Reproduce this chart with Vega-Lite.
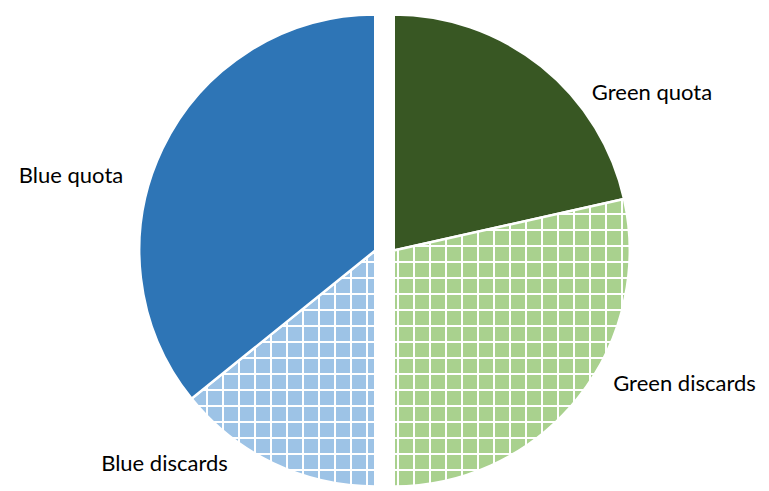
{
  "$schema": "https://vega.github.io/schema/vega-lite/v6.json",
  "width": 769,
  "height": 481,
  "autosize": {"type": "none"},
  "padding": {"top": 10, "bottom": 0, "left": 0, "right": 0},
  "background": "white",
  "config": {"view": {"stroke": null}},
  "data": {
    "values": [
      {"cat": "Green quota", "i": 1, "value": 21.5},
      {"cat": "Green discards", "i": 2, "value": 28.5},
      {"cat": "Blue discards", "i": 3, "value": 14.2},
      {"cat": "Blue quota", "i": 4, "value": 35.8}
    ]
  },
  "transform": [
    {"stack": "value", "groupby": [], "sort": [{"field": "i", "order": "ascending"}], "as": ["v0", "v1"]}
  ],
  "layer": [
    {
      "transform": [{"filter": "datum.cat == 'Green quota'"}],
      "mark": {"type": "arc", "radius": 236, "xOffset": 9.25, "fill": "#385723", "stroke": "#ffffff", "strokeWidth": 2.5},
      "encoding": {"theta": {"field": "v0", "type": "quantitative"}, "theta2": {"field": "v1"}}
    },
    {
      "transform": [{"filter": "datum.cat == 'Green discards'"}],
      "mark": {"type": "arc", "radius": 236, "xOffset": 9.25, "stroke": "#ffffff", "strokeWidth": 2.5,
        "fill": {"gradient": "linear", "x1": 0, "y1": 0, "x2": 1, "y2": 0, "stops": [
          {"offset": 0, "color": "#a9d18e"},
          {"offset": 0.01292, "color": "#a9d18e"}, {"offset": 0.01292, "color": "#ffffff"}, {"offset": 0.02309, "color": "#ffffff"}, {"offset": 0.02309, "color": "#a9d18e"},
          {"offset": 0.08072, "color": "#a9d18e"}, {"offset": 0.08072, "color": "#ffffff"}, {"offset": 0.09089, "color": "#ffffff"}, {"offset": 0.09089, "color": "#a9d18e"},
          {"offset": 0.14852, "color": "#a9d18e"}, {"offset": 0.14852, "color": "#ffffff"}, {"offset": 0.15869, "color": "#ffffff"}, {"offset": 0.15869, "color": "#a9d18e"},
          {"offset": 0.21631, "color": "#a9d18e"}, {"offset": 0.21631, "color": "#ffffff"}, {"offset": 0.22648, "color": "#ffffff"}, {"offset": 0.22648, "color": "#a9d18e"},
          {"offset": 0.28411, "color": "#a9d18e"}, {"offset": 0.28411, "color": "#ffffff"}, {"offset": 0.29428, "color": "#ffffff"}, {"offset": 0.29428, "color": "#a9d18e"},
          {"offset": 0.35191, "color": "#a9d18e"}, {"offset": 0.35191, "color": "#ffffff"}, {"offset": 0.36208, "color": "#ffffff"}, {"offset": 0.36208, "color": "#a9d18e"},
          {"offset": 0.4197, "color": "#a9d18e"}, {"offset": 0.4197, "color": "#ffffff"}, {"offset": 0.42987, "color": "#ffffff"}, {"offset": 0.42987, "color": "#a9d18e"},
          {"offset": 0.4875, "color": "#a9d18e"}, {"offset": 0.4875, "color": "#ffffff"}, {"offset": 0.49767, "color": "#ffffff"}, {"offset": 0.49767, "color": "#a9d18e"},
          {"offset": 0.5553, "color": "#a9d18e"}, {"offset": 0.5553, "color": "#ffffff"}, {"offset": 0.56547, "color": "#ffffff"}, {"offset": 0.56547, "color": "#a9d18e"},
          {"offset": 0.62309, "color": "#a9d18e"}, {"offset": 0.62309, "color": "#ffffff"}, {"offset": 0.63326, "color": "#ffffff"}, {"offset": 0.63326, "color": "#a9d18e"},
          {"offset": 0.69089, "color": "#a9d18e"}, {"offset": 0.69089, "color": "#ffffff"}, {"offset": 0.70106, "color": "#ffffff"}, {"offset": 0.70106, "color": "#a9d18e"},
          {"offset": 0.75869, "color": "#a9d18e"}, {"offset": 0.75869, "color": "#ffffff"}, {"offset": 0.76886, "color": "#ffffff"}, {"offset": 0.76886, "color": "#a9d18e"},
          {"offset": 0.82648, "color": "#a9d18e"}, {"offset": 0.82648, "color": "#ffffff"}, {"offset": 0.83665, "color": "#ffffff"}, {"offset": 0.83665, "color": "#a9d18e"},
          {"offset": 0.89428, "color": "#a9d18e"}, {"offset": 0.89428, "color": "#ffffff"}, {"offset": 0.90445, "color": "#ffffff"}, {"offset": 0.90445, "color": "#a9d18e"},
          {"offset": 0.96208, "color": "#a9d18e"}, {"offset": 0.96208, "color": "#ffffff"}, {"offset": 0.97225, "color": "#ffffff"}, {"offset": 0.97225, "color": "#a9d18e"},
          {"offset": 1, "color": "#a9d18e"}
        ]}
      },
      "encoding": {"theta": {"field": "v0", "type": "quantitative"}, "theta2": {"field": "v1"}}
    },
    {
      "transform": [{"filter": "datum.cat == 'Blue discards'"}],
      "mark": {"type": "arc", "radius": 236, "xOffset": -9.25, "stroke": "#ffffff", "strokeWidth": 2.5,
        "fill": {"gradient": "linear", "x1": 0, "y1": 0, "x2": 1, "y2": 0, "stops": [
          {"offset": 0, "color": "#9dc3e6"},
          {"offset": 0.07757, "color": "#9dc3e6"}, {"offset": 0.07757, "color": "#ffffff"}, {"offset": 0.09064, "color": "#ffffff"}, {"offset": 0.09064, "color": "#9dc3e6"},
          {"offset": 0.16467, "color": "#9dc3e6"}, {"offset": 0.16467, "color": "#ffffff"}, {"offset": 0.17774, "color": "#ffffff"}, {"offset": 0.17774, "color": "#9dc3e6"},
          {"offset": 0.25177, "color": "#9dc3e6"}, {"offset": 0.25177, "color": "#ffffff"}, {"offset": 0.26484, "color": "#ffffff"}, {"offset": 0.26484, "color": "#9dc3e6"},
          {"offset": 0.33887, "color": "#9dc3e6"}, {"offset": 0.33887, "color": "#ffffff"}, {"offset": 0.35194, "color": "#ffffff"}, {"offset": 0.35194, "color": "#9dc3e6"},
          {"offset": 0.42597, "color": "#9dc3e6"}, {"offset": 0.42597, "color": "#ffffff"}, {"offset": 0.43904, "color": "#ffffff"}, {"offset": 0.43904, "color": "#9dc3e6"},
          {"offset": 0.51307, "color": "#9dc3e6"}, {"offset": 0.51307, "color": "#ffffff"}, {"offset": 0.52614, "color": "#ffffff"}, {"offset": 0.52614, "color": "#9dc3e6"},
          {"offset": 0.60017, "color": "#9dc3e6"}, {"offset": 0.60017, "color": "#ffffff"}, {"offset": 0.61324, "color": "#ffffff"}, {"offset": 0.61324, "color": "#9dc3e6"},
          {"offset": 0.68727, "color": "#9dc3e6"}, {"offset": 0.68727, "color": "#ffffff"}, {"offset": 0.70034, "color": "#ffffff"}, {"offset": 0.70034, "color": "#9dc3e6"},
          {"offset": 0.77437, "color": "#9dc3e6"}, {"offset": 0.77437, "color": "#ffffff"}, {"offset": 0.78744, "color": "#ffffff"}, {"offset": 0.78744, "color": "#9dc3e6"},
          {"offset": 0.86147, "color": "#9dc3e6"}, {"offset": 0.86147, "color": "#ffffff"}, {"offset": 0.87454, "color": "#ffffff"}, {"offset": 0.87454, "color": "#9dc3e6"},
          {"offset": 0.94857, "color": "#9dc3e6"}, {"offset": 0.94857, "color": "#ffffff"}, {"offset": 0.96164, "color": "#ffffff"}, {"offset": 0.96164, "color": "#9dc3e6"},
          {"offset": 1, "color": "#9dc3e6"}
        ]}
      },
      "encoding": {"theta": {"field": "v0", "type": "quantitative"}, "theta2": {"field": "v1"}}
    },
    {
      "transform": [{"filter": "datum.cat == 'Blue quota'"}],
      "mark": {"type": "arc", "radius": 236, "xOffset": -9.25, "fill": "#2e75b6", "stroke": "#ffffff", "strokeWidth": 2.5},
      "encoding": {"theta": {"field": "v0", "type": "quantitative"}, "theta2": {"field": "v1"}}
    },
    {
      "transform": [{"filter": "datum.cat == 'Green discards'"}],
      "mark": {"type": "arc", "radius": 236, "xOffset": 9.25,
        "fill": {"gradient": "linear", "x1": 0, "y1": 0, "x2": 0, "y2": 1, "stops": [
          {"offset": 0, "color": "rgba(255,255,255,0)"},
          {"offset": 0.048, "color": "rgba(255,255,255,0)"}, {"offset": 0.048, "color": "#ffffff"}, {"offset": 0.05635, "color": "#ffffff"}, {"offset": 0.05635, "color": "rgba(255,255,255,0)"},
          {"offset": 0.10365, "color": "rgba(255,255,255,0)"}, {"offset": 0.10365, "color": "#ffffff"}, {"offset": 0.112, "color": "#ffffff"}, {"offset": 0.112, "color": "rgba(255,255,255,0)"},
          {"offset": 0.1593, "color": "rgba(255,255,255,0)"}, {"offset": 0.1593, "color": "#ffffff"}, {"offset": 0.16765, "color": "#ffffff"}, {"offset": 0.16765, "color": "rgba(255,255,255,0)"},
          {"offset": 0.21496, "color": "rgba(255,255,255,0)"}, {"offset": 0.21496, "color": "#ffffff"}, {"offset": 0.22331, "color": "#ffffff"}, {"offset": 0.22331, "color": "rgba(255,255,255,0)"},
          {"offset": 0.27061, "color": "rgba(255,255,255,0)"}, {"offset": 0.27061, "color": "#ffffff"}, {"offset": 0.27896, "color": "#ffffff"}, {"offset": 0.27896, "color": "rgba(255,255,255,0)"},
          {"offset": 0.32626, "color": "rgba(255,255,255,0)"}, {"offset": 0.32626, "color": "#ffffff"}, {"offset": 0.33461, "color": "#ffffff"}, {"offset": 0.33461, "color": "rgba(255,255,255,0)"},
          {"offset": 0.38191, "color": "rgba(255,255,255,0)"}, {"offset": 0.38191, "color": "#ffffff"}, {"offset": 0.39026, "color": "#ffffff"}, {"offset": 0.39026, "color": "rgba(255,255,255,0)"},
          {"offset": 0.43757, "color": "rgba(255,255,255,0)"}, {"offset": 0.43757, "color": "#ffffff"}, {"offset": 0.44592, "color": "#ffffff"}, {"offset": 0.44592, "color": "rgba(255,255,255,0)"},
          {"offset": 0.49322, "color": "rgba(255,255,255,0)"}, {"offset": 0.49322, "color": "#ffffff"}, {"offset": 0.50157, "color": "#ffffff"}, {"offset": 0.50157, "color": "rgba(255,255,255,0)"},
          {"offset": 0.54887, "color": "rgba(255,255,255,0)"}, {"offset": 0.54887, "color": "#ffffff"}, {"offset": 0.55722, "color": "#ffffff"}, {"offset": 0.55722, "color": "rgba(255,255,255,0)"},
          {"offset": 0.60452, "color": "rgba(255,255,255,0)"}, {"offset": 0.60452, "color": "#ffffff"}, {"offset": 0.61287, "color": "#ffffff"}, {"offset": 0.61287, "color": "rgba(255,255,255,0)"},
          {"offset": 0.66017, "color": "rgba(255,255,255,0)"}, {"offset": 0.66017, "color": "#ffffff"}, {"offset": 0.66852, "color": "#ffffff"}, {"offset": 0.66852, "color": "rgba(255,255,255,0)"},
          {"offset": 0.71583, "color": "rgba(255,255,255,0)"}, {"offset": 0.71583, "color": "#ffffff"}, {"offset": 0.72418, "color": "#ffffff"}, {"offset": 0.72418, "color": "rgba(255,255,255,0)"},
          {"offset": 0.77148, "color": "rgba(255,255,255,0)"}, {"offset": 0.77148, "color": "#ffffff"}, {"offset": 0.77983, "color": "#ffffff"}, {"offset": 0.77983, "color": "rgba(255,255,255,0)"},
          {"offset": 0.82713, "color": "rgba(255,255,255,0)"}, {"offset": 0.82713, "color": "#ffffff"}, {"offset": 0.83548, "color": "#ffffff"}, {"offset": 0.83548, "color": "rgba(255,255,255,0)"},
          {"offset": 0.88278, "color": "rgba(255,255,255,0)"}, {"offset": 0.88278, "color": "#ffffff"}, {"offset": 0.89113, "color": "#ffffff"}, {"offset": 0.89113, "color": "rgba(255,255,255,0)"},
          {"offset": 0.93843, "color": "rgba(255,255,255,0)"}, {"offset": 0.93843, "color": "#ffffff"}, {"offset": 0.94678, "color": "#ffffff"}, {"offset": 0.94678, "color": "rgba(255,255,255,0)"},
          {"offset": 1, "color": "rgba(255,255,255,0)"}
        ]}
      },
      "encoding": {"theta": {"field": "v0", "type": "quantitative"}, "theta2": {"field": "v1"}}
    },
    {
      "transform": [{"filter": "datum.cat == 'Blue discards'"}],
      "mark": {"type": "arc", "radius": 236, "xOffset": -9.25,
        "fill": {"gradient": "linear", "x1": 0, "y1": 0, "x2": 0, "y2": 1, "stops": [
          {"offset": 0, "color": "rgba(255,255,255,0)"},
          {"offset": 0.04364, "color": "rgba(255,255,255,0)"}, {"offset": 0.04364, "color": "#ffffff"}, {"offset": 0.05381, "color": "#ffffff"}, {"offset": 0.05381, "color": "rgba(255,255,255,0)"},
          {"offset": 0.11144, "color": "rgba(255,255,255,0)"}, {"offset": 0.11144, "color": "#ffffff"}, {"offset": 0.12161, "color": "#ffffff"}, {"offset": 0.12161, "color": "rgba(255,255,255,0)"},
          {"offset": 0.17924, "color": "rgba(255,255,255,0)"}, {"offset": 0.17924, "color": "#ffffff"}, {"offset": 0.18941, "color": "#ffffff"}, {"offset": 0.18941, "color": "rgba(255,255,255,0)"},
          {"offset": 0.24703, "color": "rgba(255,255,255,0)"}, {"offset": 0.24703, "color": "#ffffff"}, {"offset": 0.2572, "color": "#ffffff"}, {"offset": 0.2572, "color": "rgba(255,255,255,0)"},
          {"offset": 0.31483, "color": "rgba(255,255,255,0)"}, {"offset": 0.31483, "color": "#ffffff"}, {"offset": 0.325, "color": "#ffffff"}, {"offset": 0.325, "color": "rgba(255,255,255,0)"},
          {"offset": 0.38263, "color": "rgba(255,255,255,0)"}, {"offset": 0.38263, "color": "#ffffff"}, {"offset": 0.3928, "color": "#ffffff"}, {"offset": 0.3928, "color": "rgba(255,255,255,0)"},
          {"offset": 0.45042, "color": "rgba(255,255,255,0)"}, {"offset": 0.45042, "color": "#ffffff"}, {"offset": 0.46059, "color": "#ffffff"}, {"offset": 0.46059, "color": "rgba(255,255,255,0)"},
          {"offset": 0.51822, "color": "rgba(255,255,255,0)"}, {"offset": 0.51822, "color": "#ffffff"}, {"offset": 0.52839, "color": "#ffffff"}, {"offset": 0.52839, "color": "rgba(255,255,255,0)"},
          {"offset": 0.58602, "color": "rgba(255,255,255,0)"}, {"offset": 0.58602, "color": "#ffffff"}, {"offset": 0.59619, "color": "#ffffff"}, {"offset": 0.59619, "color": "rgba(255,255,255,0)"},
          {"offset": 0.65381, "color": "rgba(255,255,255,0)"}, {"offset": 0.65381, "color": "#ffffff"}, {"offset": 0.66398, "color": "#ffffff"}, {"offset": 0.66398, "color": "rgba(255,255,255,0)"},
          {"offset": 0.72161, "color": "rgba(255,255,255,0)"}, {"offset": 0.72161, "color": "#ffffff"}, {"offset": 0.73178, "color": "#ffffff"}, {"offset": 0.73178, "color": "rgba(255,255,255,0)"},
          {"offset": 0.78941, "color": "rgba(255,255,255,0)"}, {"offset": 0.78941, "color": "#ffffff"}, {"offset": 0.79958, "color": "#ffffff"}, {"offset": 0.79958, "color": "rgba(255,255,255,0)"},
          {"offset": 0.8572, "color": "rgba(255,255,255,0)"}, {"offset": 0.8572, "color": "#ffffff"}, {"offset": 0.86737, "color": "#ffffff"}, {"offset": 0.86737, "color": "rgba(255,255,255,0)"},
          {"offset": 0.925, "color": "rgba(255,255,255,0)"}, {"offset": 0.925, "color": "#ffffff"}, {"offset": 0.93517, "color": "#ffffff"}, {"offset": 0.93517, "color": "rgba(255,255,255,0)"},
          {"offset": 1, "color": "rgba(255,255,255,0)"}
        ]}
      },
      "encoding": {"theta": {"field": "v0", "type": "quantitative"}, "theta2": {"field": "v1"}}
    },
    {
      "mark": {"type": "text", "radius": 280, "dx": 92.4, "dy": 68, "font": "Lato", "fontSize": 22, "align": "center", "baseline": "alphabetic", "color": "#000000"},
      "encoding": {
        "theta": {"field": "value", "type": "quantitative", "stack": true},
        "order": {"field": "i", "type": "quantitative"},
        "text": {"condition": {"test": "datum.cat == 'Green quota'", "field": "cat"}, "value": ""}
      }
    },
    {
      "mark": {"type": "text", "radius": 280, "dx": 81.5, "dy": -34.6, "font": "Lato", "fontSize": 22, "align": "center", "baseline": "alphabetic", "color": "#000000"},
      "encoding": {
        "theta": {"field": "value", "type": "quantitative", "stack": true},
        "order": {"field": "i", "type": "quantitative"},
        "text": {"condition": {"test": "datum.cat == 'Green discards'", "field": "cat"}, "value": ""}
      }
    },
    {
      "mark": {"type": "text", "radius": 280, "dx": -99.2, "dy": -32.1, "font": "Lato", "fontSize": 22, "align": "center", "baseline": "alphabetic", "color": "#000000"},
      "encoding": {
        "theta": {"field": "value", "type": "quantitative", "stack": true},
        "order": {"field": "i", "type": "quantitative"},
        "text": {"condition": {"test": "datum.cat == 'Blue discards'", "field": "cat"}, "value": ""}
      }
    },
    {
      "mark": {"type": "text", "radius": 280, "dx": -60.9, "dy": 53.3, "font": "Lato", "fontSize": 22, "align": "center", "baseline": "alphabetic", "color": "#000000"},
      "encoding": {
        "theta": {"field": "value", "type": "quantitative", "stack": true},
        "order": {"field": "i", "type": "quantitative"},
        "text": {"condition": {"test": "datum.cat == 'Blue quota'", "field": "cat"}, "value": ""}
      }
    }
  ]
}
